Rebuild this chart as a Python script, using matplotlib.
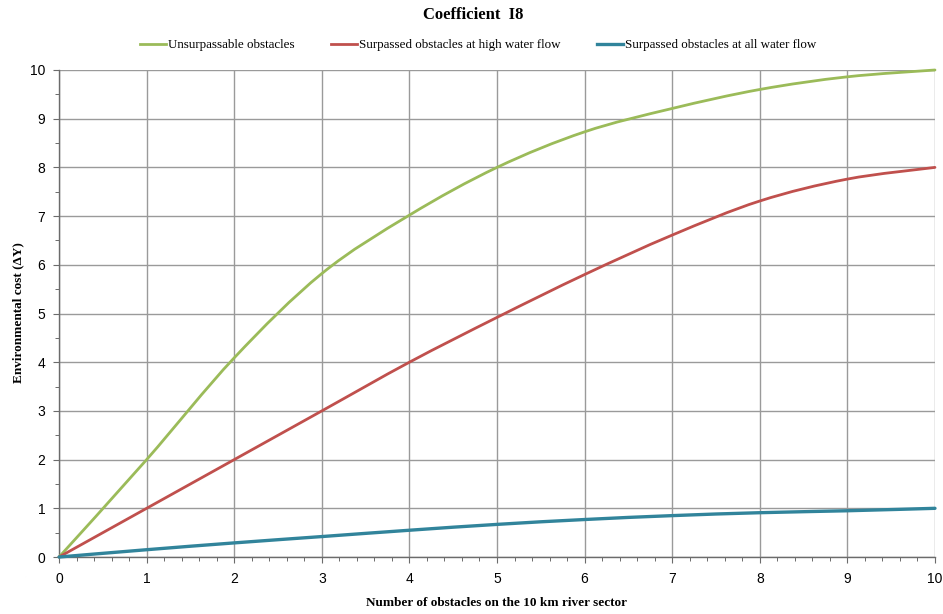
import numpy as np
import matplotlib
matplotlib.use("Agg")
import matplotlib.pyplot as plt
from matplotlib.path import Path
from matplotlib.patches import PathPatch
from matplotlib.lines import Line2D
from matplotlib.ticker import MultipleLocator

# ---- data ----
obstacles = [0, 1, 2, 3, 4, 5, 6, 7, 8, 9, 10]
unsurpassable = [0, 2.0, 4.09, 5.82, 7.02, 8.0, 8.73, 9.21, 9.60, 9.86, 10.0]
high_flow = [0, 1.0, 2.0, 3.0, 4.0, 4.92, 5.80, 6.61, 7.31, 7.76, 8.0]
all_flow = [0, 0.15, 0.29, 0.42, 0.55, 0.67, 0.77, 0.85, 0.91, 0.95, 1.0]
series_names = ["Unsurpassable obstacles",
                "Surpassed obstacles at high water flow",
                "Surpassed obstacles at all water flow"]
x_ticks = list(range(0, 11))
y_ticks = list(range(0, 11))

colors = ["#9BBB59", "#C0504D", "#31849B"]
widths = [2.0, 2.0, 2.4]

serif = ["Liberation Serif", "DejaVu Serif"]
tickfont = ["Liberation Sans Narrow", "Liberation Sans", "DejaVu Sans"]

fig = plt.figure(figsize=(9.43, 6.14), dpi=100)
ax = fig.add_axes([0.0626, 0.0928, 0.9289, 0.7932])


def smooth_path(xs, ys):
    """Excel-style smoothed line (Catmull-Rom -> cubic Bezier) through the data points."""
    P = np.column_stack([xs, ys]).astype(float)
    n = len(P)
    verts = [P[0]]
    codes = [Path.MOVETO]
    for i in range(n - 1):
        p0 = P[i - 1] if i > 0 else P[i]
        p1 = P[i]
        p2 = P[i + 1]
        p3 = P[i + 2] if i + 2 < n else P[i + 1]
        c1 = p1 + (p2 - p0) / 6.0
        c2 = p2 - (p3 - p1) / 6.0
        verts += [c1, c2, p2]
        codes += [Path.CURVE4] * 3
    return Path(verts, codes)


handles = []
for ys, c, lw, name in zip([unsurpassable, high_flow, all_flow], colors, widths, series_names):
    patch = PathPatch(smooth_path(obstacles, ys), fill=False, edgecolor=c, lw=lw,
                      transform=ax.transData, zorder=3, capstyle="round", joinstyle="round")
    patch.set_clip_on(False)
    ax.add_patch(patch)
    handles.append(Line2D([], [], color=c, lw=lw, label=name))

ax.set_xlim(0, 10)
ax.set_ylim(0, 10)
ax.set_xticks(x_ticks)
ax.set_yticks(y_ticks)
ax.xaxis.set_minor_locator(MultipleLocator(0.2))
ax.yaxis.set_minor_locator(MultipleLocator(0.5))
ax.grid(True, which="major", color="#9a9a9a", lw=1.0, zorder=0)
ax.set_axisbelow(True)

for s in ["top", "right"]:
    ax.spines[s].set_visible(False)
for s in ["left", "bottom"]:
    ax.spines[s].set_color("#6b6b6b")
    ax.spines[s].set_linewidth(1.0)

ax.tick_params(axis="both", which="major", direction="out", length=4, width=0.8,
               color="#6b6b6b", labelsize=10, pad=6)
ax.tick_params(axis="both", which="minor", direction="out", length=3, width=0.7, color="#6b6b6b")
ax.tick_params(axis="x", which="major", pad=7)
for lab in ax.get_xticklabels() + ax.get_yticklabels():
    lab.set_fontfamily(tickfont)

fig.text(0.502, 0.975, "Coefficient  I8", ha="center", va="center",
         fontsize=12, fontweight="bold", family=serif)
fig.text(497 / 943, 1 - 603 / 614, "Number of obstacles on the 10 km river sector",
         ha="center", va="center", fontsize=9.5, fontweight="bold", family=serif)
fig.text(18 / 943, 1 - 313 / 614, "Environmental cost (\u0394Y)", rotation=90,
         ha="center", va="center", fontsize=9.5, fontweight="bold", family=serif)

leg = fig.legend(handles=handles, loc="center", bbox_to_anchor=(478 / 943, 1 - 45 / 614), ncol=3,
                 frameon=False, prop={"family": serif, "size": 9.4},
                 handlelength=2.0, handletextpad=0.15, columnspacing=2.8)

fig.savefig("out.png", dpi=100)
